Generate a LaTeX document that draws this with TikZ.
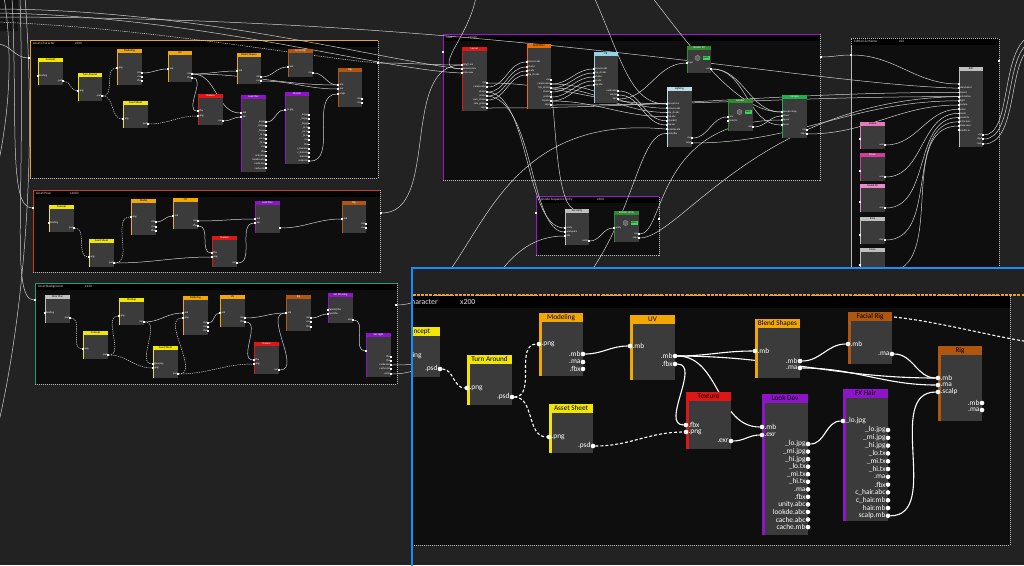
\documentclass[tikz,border=0pt]{standalone}
\usepackage{fontspec}
\setmainfont{Carlito}
\pgfdeclarelayer{l0}\pgfdeclarelayer{l1}\pgfdeclarelayer{l2}\pgfdeclarelayer{l3}\pgfdeclarelayer{l4}
\pgfsetlayers{l0,l1,main,l2,l3,l4}
\definecolor{bg}{HTML}{222222}
\definecolor{grp}{HTML}{0E0E0E}
\definecolor{body}{HTML}{3B3B3B}
\definecolor{cyel}{HTML}{F2E600}
\definecolor{corg}{HTML}{F2A800}
\definecolor{cbrn}{HTML}{B0560E}
\definecolor{cred}{HTML}{E01515}
\definecolor{cpur}{HTML}{8E14C8}
\definecolor{cani}{HTML}{E86C00}
\definecolor{cfx}{HTML}{96D2E6}
\definecolor{clit}{HTML}{BCDCE8}
\definecolor{cgrn}{HTML}{2E8B2E}
\definecolor{ccmp}{HTML}{1FAF4A}
\definecolor{cbad}{HTML}{3ED35A}
\definecolor{cgry}{HTML}{BEBEBE}
\definecolor{cvoi}{HTML}{E478BE}
\definecolor{cmus}{HTML}{D23C9A}
\definecolor{csfx}{HTML}{E88ACA}
\definecolor{cblu}{HTML}{1A8CFF}
\definecolor{fac}{HTML}{F0A020}
\definecolor{fap}{HTML}{C8401A}
\definecolor{fab}{HTML}{1FA070}
\definecolor{fsh}{HTML}{A412D8}
\definecolor{wirec}{HTML}{D0D0D0}
\definecolor{topdark}{HTML}{141414}
\tikzset{
 hy/.style={fill=cyel,text=black}, ho/.style={fill=corg,text=black},
 hb/.style={fill=cbrn,text=white}, hr/.style={fill=cred,text=white},
 hp/.style={fill=cpur,text=white}, ha/.style={fill=cani,text=black},
 hf/.style={fill=cfx,text=black}, hl/.style={fill=clit,text=black},
 hg/.style={fill=cgrn,text=white}, hc/.style={fill=ccmp,text=white},
 hgr/.style={fill=cgry,text=black}, hv/.style={fill=cvoi,text=black},
 hm/.style={fill=cmus,text=white}, hs/.style={fill=csfx,text=black},
 sbody/.style={anchor=north west,fill=body,inner sep=0,outer sep=0,draw=none},
 shead/.style={anchor=north west,inner sep=0,outer sep=0,minimum height=4pt,font=\fontsize{2.8}{3}\selectfont},
 sdot/.style={rectangle,fill=white,inner sep=0,outer sep=0,minimum size=1.8pt,label distance=1.1pt},
 slab/.style={inner sep=0,font=\fontsize{2.6}{3}\selectfont,text=white},
 bbody/.style={anchor=north west,fill=body,inner sep=0,outer sep=0},
 bhead/.style={anchor=north west,inner sep=0,outer sep=0,minimum height=9pt,font=\fontsize{7.2}{8}\selectfont},
 bdot/.style={circle,fill=white,inner sep=0,outer sep=0,minimum size=4.6pt,label distance=2.8pt},
 blab/.style={inner sep=0,font=\fontsize{7.4}{8}\selectfont,text=white},
 gbox/.style={anchor=north west,fill=grp,draw=gray!55,dash pattern=on 1pt off 1pt,line width=0.5pt,inner sep=0,outer sep=0},
 gtitle/.style={inner sep=0,font=\fontsize{3.4}{4}\selectfont,text=white!85!black},
 ititle/.style={inner sep=0,font=\fontsize{7.8}{8}\selectfont,text=white!90!black},
 w/.style={draw=wirec,line width=0.5pt},
 wdash/.style={draw=wirec,line width=0.5pt,dash pattern=on 1.3pt off 0.9pt},
 bw/.style={draw=white,line width=1.1pt},
 bwd/.style={draw=white,line width=1.1pt,dash pattern=on 3pt off 2pt},
 badge/.style={fill=cbad,text=black,inner sep=0.3pt,minimum width=7pt,minimum height=3.6pt,font=\fontsize{2.6}{3}\selectfont}
}
\newcommand\snode[7]{%
 \node[sbody,minimum width=#4pt,minimum height=#5pt] (#1) at (#2,#3) {};
 \node[shead,#6,minimum width=#4pt] (#1-h) at (#2,#3) {#7};
 \fill[#6] (#2,#3) rectangle ++(0.9,#5);}
\newcommand\si[4]{\node[sdot,label={[slab]0:#4}] (#1) at (#2,#3) {};}
\newcommand\so[4]{\node[sdot,label={[slab]180:#4}] (#1) at (#2,#3) {};}
\newcommand\bnode[7]{%
 \node[bbody,minimum width=#4pt,minimum height=#5pt] (#1) at (#2,#3) {};
 \node[bhead,#6,text=black,minimum width=#4pt] (#1-h) at (#2,#3) {#7};
 \fill[#6] (#2,#3) rectangle ++(2.6,#5);}
\newcommand\bi[4]{\node[bdot,label={[blab]0:#4}] (#1) at (#2,#3) {};}
\newcommand\bo[4]{\node[bdot,label={[blab]180:#4}] (#1) at (#2,#3) {};}
\newcommand\mkgrp[9]{%
 \begin{pgfonlayer}{l0}
 \node[gbox,minimum width=#4pt,minimum height=#5pt] (#1) at (#2,#3) {};
 \fill[black] (#2,#3) rectangle ++(#4,6.5);
 \draw[#6,line width=1pt] (#2,{#3+#5}) -- (#2,#3) -- ({#2+#4},#3);
 \node[gtitle,anchor=west] (#1-t) at ({#2+3},{#3+3.4}) {#7};
 \node[gtitle,anchor=west] (#1-c) at (#8,{#3+3.4}) {#9};
 \end{pgfonlayer}}
\newcommand\mkauto[3]{\draw[gray!80,line width=0.3pt,fill=black!60] ({#2-8.5},#3) circle (2.6);
 \node[badge] (#1) at (#2,#3) {Auto};}
\newcommand\cw[2]{\draw[w] (#1) to[out=0,in=180] (#2);}
\newcommand\cwd[2]{\draw[wdash] (#1) to[out=0,in=180] (#2);}
\newcommand\CW[2]{\draw[bw] (#1) to[out=0,in=180] (#2);}
\newcommand\CWD[2]{\draw[bwd] (#1) to[out=0,in=180] (#2);}
\begin{document}
\begin{tikzpicture}[x=1pt,y=-1pt]
\useasboundingbox (0,0) rectangle (1024,565);
\begin{pgfonlayer}{l0}
\fill[bg] (0,0) rectangle (1024,565);
\fill[topdark] (0,0) rectangle (18,31);
\end{pgfonlayer}
% ---------------- groups
\mkgrp{gAC}{30}{40}{348}{138}{fac}{Asset Character}{75}{x200}
\mkgrp{gAP}{33}{190}{347}{82}{fap}{Asset Prop}{70}{x1000}
\mkgrp{gAB}{35}{283}{362}{101}{fab}{Asset Background}{85}{x120}
\mkgrp{gSh}{443}{34}{377}{146}{fsh}{Shot}{468}{x1000}
\mkgrp{gEp}{536}{196}{123}{59}{fsh}{Episode Sequence Unity}{597}{x400}
\mkgrp{gEd}{851}{38}{148}{240}{gray!55,dash pattern=on 1pt off 1pt}{Edition \& Master}{899}{x52}
\node[sdot] (gAC-i) at (29,58) {}; \node[sdot] (gAC-o) at (378,63) {};
\node[sdot] (gAP-i) at (33,208) {}; \node[sdot] (gAP-o) at (381,213) {};
\node[sdot] (gAB-i) at (35,300) {}; \node[sdot] (gAB-o) at (396,305) {};
\node[sdot] (gSh-i) at (443,52) {}; \node[sdot] (gSh-o) at (821,57) {};
\node[sdot] (gEp-i) at (536,213) {}; \node[sdot] (gEp-o) at (659,219) {};
\node[sdot] (gEd-i) at (851,55) {}; \node[sdot] (gEd-o) at (999,61) {};
% ---------------- Asset Character
\snode{acConcept}{38}{58}{25}{27}{hy}{Concept}
\si{acConcept-i}{38}{76}{briefing}\so{acConcept-o}{63}{81}{.psd}
\snode{acTurn}{78}{73}{24}{28}{hy}{Turn Around}
\si{acTurn-i}{78}{91}{.png}\so{acTurn-o}{102}{96}{.psd}
\snode{acModel}{117}{49}{25}{36}{ho}{Modeling}
\si{acModel-i}{117}{68}{.png}
\so{acModel-mb}{142}{73}{.mb}\so{acModel-ma}{142}{77}{.ma}\so{acModel-fbx}{142}{81}{.fbx}
\snode{acSheet}{123}{101}{25}{27}{hy}{Asset Sheet}
\si{acSheet-i}{123}{119}{.png}\so{acSheet-o}{148}{124}{.psd}
\snode{acUV}{168}{51}{24}{31}{ho}{UV}
\si{acUV-i}{168}{69}{.mb}\so{acUV-mb}{192}{74}{.mb}\so{acUV-fbx}{192}{78}{.fbx}
\snode{acTex}{198}{94}{25}{31}{hr}{Texture}
\si{acTex-fbx}{198}{111}{.fbx}\si{acTex-png}{198}{116}{.png}\so{acTex-o}{223}{121}{.exr}
\snode{acBlend}{237}{53}{24}{31}{ho}{Blend Shapes}
\si{acBlend-i}{237}{71}{.mb}\so{acBlend-mb}{261}{77}{.mb}\so{acBlend-ma}{261}{81}{.ma}
\snode{acFacial}{288}{49}{25}{28}{hb}{Facial Rig}
\si{acFacial-i}{288}{67}{.mb}\so{acFacial-o}{313}{73}{.ma}
\snode{acLook}{241}{95}{25}{77}{hp}{Look Dev}
\si{acLook-mb}{241}{113}{.mb}\si{acLook-exr}{241}{117}{.exr}
\foreach \t [count=\i] in {\_lo.jpg,\_mi.jpg,\_hi.jpg,\_lo.tx,\_mi.tx,\_hi.tx,.ma,.fbx,unity.abc,lookdev.abc,cache.abc,cache.mb}
 {\pgfmathsetmacro\yy{122+4.2*(\i-1)}\so{acLook-o\i}{266}{\yy}{\t}}
\snode{acFX}{285}{92}{24}{72}{hp}{FX Hair}
\si{acFX-i}{285}{110}{\_lo.jpg}
\foreach \t [count=\i] in {\_lo.jpg,\_mi.jpg,\_hi.jpg,\_lo.tx,\_mi.tx,\_hi.tx,.ma,.fbx,c\_hair.abc,c\_hair.mb,hair.mb,scalp.mb}
 {\pgfmathsetmacro\yy{115+4.2*(\i-1)}\so{acFX-o\i}{309}{\yy}{\t}}
\snode{acRig}{338}{68}{24}{39}{hb}{Rig}
\si{acRig-mb}{338}{85}{.mb}\si{acRig-ma}{338}{89}{.ma}\si{acRig-sc}{338}{94}{.scalp}
\so{acRig-omb}{362}{99}{.mb}\so{acRig-oma}{362}{103}{.ma}
% ---------------- Asset Prop
\snode{apConcept}{49}{205}{25}{27}{hy}{Concept}
\si{apConcept-i}{49}{223}{briefing}\so{apConcept-o}{74}{228}{.psd}
\snode{apSheet}{89}{239}{25}{28}{hy}{Asset Sheet}
\si{apSheet-i}{89}{257}{.png}\so{apSheet-o}{114}{263}{.psd}
\snode{apModel}{131}{199}{25}{36}{ho}{Model}
\si{apModel-i}{131}{217}{.png}\so{apModel-mb}{156}{222}{.mb}\so{apModel-ma}{156}{227}{.ma}\so{apModel-fbx}{156}{231}{.fbx}
\snode{apUV}{173}{198}{25}{31}{ho}{UV}
\si{apUV-i}{173}{216}{.mb}\so{apUV-mb}{198}{221}{.mb}\so{apUV-fbx}{198}{226}{.fbx}
\snode{apTex}{212}{236}{25}{31}{hr}{Texture}
\si{apTex-fbx}{212}{253}{.fbx}\si{apTex-png}{212}{257}{.png}\so{apTex-o}{237}{263}{.exr}
\snode{apLook}{255}{201}{25}{32}{hp}{Look Dev}
\si{apLook-mb}{255}{219}{.mb}\si{apLook-exr}{255}{223}{.exr}\so{apLook-o}{280}{228}{}
\snode{apRig}{342}{201}{24}{32}{hb}{Rig}
\si{apRig-i}{342}{219}{.mb}\so{apRig-mb}{366}{224}{.mb}\so{apRig-ma}{366}{228}{.ma}
% ---------------- Asset Background
\snode{abFloor}{45}{295}{25}{28}{hgr}{Floor Plan}
\si{abFloor-i}{45}{313}{briefing}\so{abFloor-o}{70}{318}{.psd}
\snode{abConcept}{83}{331}{25}{28}{hy}{Concept}
\si{abConcept-i}{83}{349}{.png}\so{abConcept-o}{108}{355}{.psd}
\snode{abMock}{119}{298}{25}{27}{hy}{Mockup}
\si{abMock-i}{119}{316}{.png}\so{abMock-o}{144}{322}{.mb}
\snode{abSheet}{153}{346}{25}{32}{hy}{Asset Sheet}
\si{abSheet-g}{153}{364}{glow.png}\si{abSheet-p}{153}{368}{.png}\so{abSheet-o}{178}{374}{.psd}
\snode{abModel}{183}{296}{25}{39}{ho}{Modeling}
\si{abModel-mbi}{183}{313}{.mb}\si{abModel-png}{183}{318}{.png}
\so{abModel-mb}{208}{323}{.mb}\so{abModel-ma}{208}{327}{.ma}\so{abModel-fbx}{208}{331}{.fbx}
\snode{abUV}{220}{295}{25}{32}{ho}{UV}
\si{abUV-i}{220}{313}{.mb}\so{abUV-mb}{245}{318}{.mb}\so{abUV-fbx}{245}{322}{.fbx}
\snode{abTex}{254}{342}{25}{32}{hr}{Texture}
\si{abTex-fbx}{254}{360}{.fbx}\si{abTex-png}{254}{364}{.png}\so{abTex-o}{279}{370}{.exr}
\snode{abRig}{286}{295}{25}{36}{hb}{Rig}
\si{abRig-i}{286}{313}{.mb}\so{abRig-mb}{311}{318}{.mb}\so{abRig-ma}{311}{322}{.ma}\so{abRig-fbx}{311}{327}{.fbx}
\snode{abSetD}{328}{293}{25}{30}{hp}{Set Dressing}
\si{abSetD-p}{328}{310}{\{photo\}.fbx}\si{abSetD-m}{328}{314}{mod.fbx}\so{abSetD-o}{353}{320}{.abc}
\snode{abSetL}{366}{333}{25}{44}{hp}{Set Light}
\si{abSetL-i}{366}{351}{}
\so{abSetL-o1}{391}{357}{.fbx}\so{abSetL-o2}{391}{361}{.fbx}\so{abSetL-o3}{391}{365}{cache.abc}\so{abSetL-o4}{391}{369}{cache.mb}\so{abSetL-o5}{391}{374}{.unity}
% ---------------- Shot
\snode{shLayout}{462}{47}{25}{64}{hr}{Layout}
\si{shLayout-i1}{462}{65}{\{\{rig\}\}.ma}\si{shLayout-i2}{462}{69}{camera.mov}\si{shLayout-i3}{462}{73}{voice.wav}
\foreach \t/\y [count=\i] in {.ma/83,camera.abc/87,ch.abc/92,pr.abc/96,sam\_ch.abc/100,sam\_pr.abc/104,.mp4/108}
 {\so{shLayout-o\i}{487}{\y}{\t}}
\snode{shAnim}{527}{44}{24}{65}{ha}{Animation}
\foreach \t/\y [count=\i] in {camera.abc/62,ch.abc/67,pr.abc/71,fsp\_ch.abc/75}
 {\si{shAnim-i\i}{527}{\y}{\t}}
\foreach \t/\y [count=\i] in {.ma/80,camera.abc/84,fsp\_ch.abc/88,ch.abc/92,pr.abc/97,fsp.abc/101,.mp4/105}
 {\so{shAnim-o\i}{551}{\y}{\t}}
\snode{shFX}{594}{52}{24}{51}{hf}{FX}
\foreach \t/\y [count=\i] in {camera.abc/69,fsp\_ch.abc/73,ch.abc/77,pr.abc/81,fsp.abc/85}
 {\si{shFX-i\i}{594}{\y}{\t}}
\foreach \t/\y [count=\i] in {cache.abc/91,vol.exr/95,.fxpt/99}
 {\so{shFX-o\i}{618}{\y}{\t}}
\snode{shRFX}{687}{46}{24}{27}{hg}{Render FX}
\si{shRFX-i}{687}{63}{.fxpt}\so{shRFX-o}{711}{69}{.exr}
\mkauto{shRFX-a}{706}{58}
\snode{shLight}{667}{87}{25}{60}{hl}{Lighting}
\foreach \t [count=\i] in {prevpt.ma,camera.abc,fsp\_ch.abc,fsp.abc,\{\{looks\}\},fsp.exr,lookdev.mb,unity.fbx}
 {\pgfmathsetmacro\yy{104+4.2*(\i-1)}\si{shLight-i\i}{667}{\yy}{\t}}
\so{shLight-o1}{692}{138}{.ma}\so{shLight-o2}{692}{143}{.mp4}
\snode{shRender}{728}{99}{25}{32}{hg}{Render}
\si{shRender-i1}{728}{117}{.ma}\si{shRender-i2}{728}{121}{\{lens\}.fx}\so{shRender-o}{753}{127}{.exr}
\mkauto{shRender-a}{748}{112}
\snode{shCompo}{782}{95}{25}{43}{hc}{Compo}
\foreach \t/\y [count=\i] in {prevpt.comp/112,ch.exr/116,bg.exr/120,fx.exr/125}
 {\si{shCompo-i\i}{782}{\y}{\t}}
\so{shCompo-o1}{807}{130}{.exr}\so{shCompo-o2}{807}{134}{.mp4}
% ---------------- Episode
\snode{esSetU}{565}{209}{24}{36}{hgr}{Set Unity}
\si{esSetU-i1}{565}{228}{.unity}\si{esSetU-i2}{565}{232}{.unitypack}\si{esSetU-i3}{565}{236}{.abc}
\so{esSetU-o}{589}{241}{.unity}
\snode{esRU}{614}{211}{25}{31}{hg}{Render Unity}
\si{esRU-i}{614}{228}{.unity}\so{esRU-o1}{639}{234}{.exr}\so{esRU-o2}{639}{238}{.mp4}
\mkauto{esRU-a}{634}{223}
% ---------------- Edition
\snode{edEdit}{959}{67}{24}{80}{hgr}{Edit}
\foreach \t [count=\i] in {{},storyboard,layout,animation,light,compo,voice,music,sound fx,intro.mov,close.mov,credits.tx}
 {\pgfmathsetmacro\yy{84+4.2*(\i-1)}\si{edEdit-i\i}{959}{\yy}{\t}}
\so{edEdit-o1}{983}{135}{.exr}\so{edEdit-o2}{983}{139}{.mp4}\so{edEdit-o3}{983}{144}{.mov}
\snode{edVoi}{860}{122}{25}{27}{hv}{Voices}\si{edVoi-i}{860}{139}{}\so{edVoi-o}{885}{145}{.wav}
\snode{edMus}{860}{153}{25}{28}{hm}{Music}\si{edMus-i}{860}{171}{}\so{edMus-o}{885}{177}{.wav}
\snode{edSfx}{860}{184}{25}{28}{hs}{Sound FX}\si{edSfx-i}{860}{202}{}\so{edSfx-o}{885}{208}{.wav}
\snode{edIntro}{860}{217}{25}{27}{hgr}{Intro}\si{edIntro-i}{860}{235}{}\so{edIntro-o}{885}{240}{.mov}
\snode{edClose}{860}{248}{25}{28}{hgr}{Close}\si{edClose-i}{860}{265}{}\so{edClose-o}{885}{272}{.mov}
% ---------------- free ends
\coordinate (e1) at (-3,44); \coordinate (e2) at (12,-3); \coordinate (e3) at (20,-3);
\coordinate (e4) at (25,-3); \coordinate (e4b) at (-3,430); \coordinate (e5) at (4,-3); \coordinate (e5b) at (-3,170);
\coordinate (h1) at (-3,9); \coordinate (h2) at (-3,13); \coordinate (h3) at (-3,17); \coordinate (h4) at (-3,22);
\coordinate (t1) at (476,-3); \coordinate (t2) at (594,-3); \coordinate (t3) at (652,-3);
\coordinate (r1) at (1030,36); \coordinate (r2) at (1030,42); \coordinate (r3) at (1030,48);
% ---------------- wires (main view)
\begin{pgfonlayer}{l1}
\cwd{acConcept-o}{acTurn-i}\cwd{acTurn-o}{acModel-i}\cwd{acTurn-o}{acSheet-i}\cwd{acSheet-o}{acTex-png}
\cw{acModel-mb}{acUV-i}\cw{acUV-mb}{acBlend-i}\cw{acUV-mb}{acRig-mb}\cw{acUV-mb}{acLook-mb}
\cw{acUV-fbx}{acTex-fbx}\cw{acBlend-mb}{acFacial-i}\cw{acBlend-ma}{acRig-ma}\cw{acFacial-o}{acRig-mb}
\cw{acTex-o}{acLook-exr}\cw{acLook-o1}{acFX-i}\cw{acFX-o12}{acRig-sc}
\cwd{apConcept-o}{apSheet-i}\cwd{apSheet-o}{apModel-i}\cw{apSheet-o}{apTex-png}
\cw{apModel-mb}{apUV-i}\cw{apUV-mb}{apLook-mb}\cw{apUV-fbx}{apTex-fbx}\cw{apTex-o}{apLook-exr}\cw{apLook-o}{apRig-i}
\cwd{abFloor-o}{abConcept-i}\cwd{abConcept-o}{abMock-i}\cwd{abConcept-o}{abSheet-p}
\cw{abMock-o}{abModel-mbi}\cwd{abMock-o}{abSheet-g}\cwd{abSheet-o}{abModel-png}\cwd{abSheet-o}{abTex-png}
\cw{abModel-mb}{abUV-i}\cw{abUV-mb}{abRig-i}\cw{abUV-fbx}{abTex-fbx}\cw{abTex-o}{abRig-i}
\cw{abRig-mb}{abSetD-m}\cw{abSetD-o}{abSetL-i}
% shot internal
\cw{shLayout-o2}{shAnim-i1}\cw{shLayout-o3}{shAnim-i2}\cw{shLayout-o4}{shAnim-i3}\cw{shLayout-o5}{shAnim-i4}
\cw{shAnim-o2}{shFX-i1}\cw{shAnim-o3}{shFX-i2}\cw{shAnim-o4}{shFX-i3}\cw{shAnim-o5}{shFX-i4}\cw{shAnim-o6}{shFX-i5}
\cw{shAnim-o2}{shLight-i2}\cw{shAnim-o3}{shLight-i3}\cw{shAnim-o6}{shLight-i4}\cw{shLayout-o1}{shLight-i1}
\cw{shFX-o3}{shRFX-i}\cw{shFX-o2}{shLight-i6}\cw{shFX-o1}{shLight-i5}
\cw{shLight-o1}{shRender-i1}\cw{shRender-o}{shCompo-i2}\cw{shRFX-o}{shCompo-i4}\cw{shRFX-o}{shCompo-i1}
\draw[w] (t1) .. controls (468,40) and (430,69) .. (shLayout-i2);
\draw[w] (t2) .. controls (622,60) and (630,104) .. (shLight-i1);
\draw[w] (t3) .. controls (700,60) and (740,112) .. (shCompo-i1);
% episode
\draw[w] (shLayout-o3) .. controls (530,95) and (525,228) .. (esSetU-i1);
\draw[w] (shLayout-o4) .. controls (534,100) and (530,232) .. (esSetU-i2);
\draw[w] (shAnim-o4) .. controls (556,120) and (556,200) .. (esSetU-h);
\cw{abSetL-o5}{esSetU-i3}\cw{esSetU-o}{esRU-i}
\draw[w] (esRU-o1) .. controls (665,234) and (655,120) .. (shCompo-i3);
\draw[w] (esRU-o2) .. controls (680,238) and (760,100) .. (edEdit-i4);
% long wires
\draw[w] (e1) to[out=0,in=180] (gAC-i);
\draw[w] (e2) .. controls (18,120) and (8,208) .. (gAP-i);
\draw[w] (e3) .. controls (26,200) and (10,300) .. (gAB-i);
\draw[w] (e4) .. controls (40,200) and (14,360) .. (e4b);
\draw[w] (e5) .. controls (14,60) and (8,120) .. (e5b);
\draw[w] (h1) .. controls (200,10) and (380,60) .. (shLayout-i2);
\draw[w] (h2) .. controls (200,16) and (380,70) .. (shLayout-i3);
\draw[w] (h3) .. controls (500,18) and (800,84) .. (edEdit-i2);
\draw[wdash] (h4) .. controls (150,28) and (300,56) .. (gAC-o);
\cw{gAC-o}{shLayout-i1}
\draw[w] (gAP-o) .. controls (440,213) and (400,65) .. (shLayout-i1);
\draw[w] (gAB-o) .. controls (480,305) and (470,110) .. (shLight-i7);
\draw[w] (abSetL-o3) .. controls (640,365) and (620,133) .. (shLight-i8);
\cw{gSh-o}{gEd-i}\cw{gEd-i}{edEdit-i1}
\cw{shLayout-o7}{edEdit-i3}\cw{shAnim-o7}{edEdit-i4}\cw{shLight-o2}{edEdit-i5}\cw{shCompo-o2}{edEdit-i6}
\cw{edVoi-o}{edEdit-i7}\cw{edMus-o}{edEdit-i8}\cw{edSfx-o}{edEdit-i9}\cw{edIntro-o}{edEdit-i10}\cw{edClose-o}{edEdit-i11}
\draw[w] (edEdit-o1) .. controls (1012,135) and (1000,50) .. (r1);
\draw[w] (edEdit-o2) .. controls (1015,139) and (1004,56) .. (r2);
\draw[w] (edEdit-o3) .. controls (1018,144) and (1008,62) .. (r3);
\end{pgfonlayer}
% ================= INSET =================
\begin{pgfonlayer}{l2}
\begin{scope}
\clip (412,268) rectangle (1024,565);
\fill[bg] (412,268) rectangle (1024,565);
\node[gbox,minimum width=610pt,minimum height=250pt] (iGrp) at (400,295) {};
\fill[black] (400,296) rectangle (1010,308);
\draw[fac,line width=1.3pt,dash pattern=on 3pt off 1.2pt] (400,295) -- (1024,295);
\node[ititle,anchor=east] (iGrp-t) at (438,302) {Asset Character};
\node[ititle,anchor=west] (iGrp-c) at (460,302) {x200};
\end{scope}
\end{pgfonlayer}
\begin{pgfonlayer}{l4}
\begin{scope}
\clip (412,268) rectangle (1024,565);
\bnode{iConcept}{396}{327}{44}{50}{hy}{Concept}
\bi{iConcept-i}{396}{356}{briefing}\bo{iConcept-o}{440}{369}{.psd}
\bnode{iTurn}{467}{355}{45}{50}{hy}{Turn Around}
\bi{iTurn-i}{467}{388}{.png}\bo{iTurn-o}{512}{397}{.psd}
\bnode{iModel}{539}{313}{44}{63}{ho}{Modeling}
\bi{iModel-i}{539}{344}{.png}
\bo{iModel-mb}{583}{354}{.mb}\bo{iModel-ma}{583}{362}{.ma}\bo{iModel-fbx}{583}{369}{.fbx}
\bnode{iSheet}{549}{404}{44}{49}{hy}{Asset Sheet}
\bi{iSheet-i}{549}{437}{.png}\bo{iSheet-o}{593}{446}{.psd}
\bnode{iUV}{630}{315}{45}{65}{ho}{UV}
\bi{iUV-i}{630}{346}{.mb}\bo{iUV-mb}{675}{356}{.mb}\bo{iUV-fbx}{675}{364}{.fbx}
\bnode{iTex}{686}{392}{45}{57}{hr}{Texture}
\bi{iTex-fbx}{686}{425}{.fbx}\bi{iTex-png}{686}{432}{.png}\bo{iTex-o}{731}{441}{.exr}
\bnode{iBlend}{755}{319}{45}{59}{ho}{Blend Shapes}
\bi{iBlend-i}{755}{351}{.mb}\bo{iBlend-mb}{800}{361}{.mb}\bo{iBlend-ma}{800}{368}{.ma}
\bnode{iFacial}{848}{312}{44}{52}{hb}{Facial Rig}
\bi{iFacial-i}{848}{344}{.mb}\bo{iFacial-o}{892}{354}{.ma}
\bnode{iLook}{762}{394}{46}{141}{hp}{Look Dev}
\bi{iLook-mb}{762}{427}{.mb}\bi{iLook-exr}{762}{435}{.exr}
\foreach \t [count=\i] in {\_lo.jpg,\_mi.jpg,\_hi.jpg,\_lo.tx,\_mi.tx,\_hi.tx,.ma,.fbx,unity.abc,lookde.abc,cache.abc,cache.mb}
 {\pgfmathsetmacro\yy{444+7.55*(\i-1)}\bo{iLook-o\i}{808}{\yy}{\t}}
\bnode{iFX}{843}{389}{45}{132}{hp}{FX Hair}
\bi{iFX-i}{843}{421}{\_lo.jpg}
\foreach \t [count=\i] in {\_lo.jpg,\_mi.jpg,\_hi.jpg,\_lo.tx,\_mi.tx,\_hi.tx,.ma,.fbx,c\_hair.abc,c\_hair.mb,hair.mb,scalp.mb}
 {\pgfmathsetmacro\yy{430+7.8*(\i-1)}\bo{iFX-o\i}{888}{\yy}{\t}}
\bnode{iRig}{938}{346}{44}{75}{hb}{Rig}
\bi{iRig-mb}{938}{378}{.mb}\bi{iRig-ma}{938}{385}{.ma}\bi{iRig-sc}{938}{392}{.scalp}
\bo{iRig-omb}{982}{403}{.mb}\bo{iRig-oma}{982}{410}{.ma}
\coordinate (iD1) at (894,317); \coordinate (iD2) at (1030,342);
\end{scope}
\draw[cblu,line width=1.6pt] (412,566) -- (412,268) -- (1025,268);
\end{pgfonlayer}
\begin{pgfonlayer}{l3}
\begin{scope}
\clip (412,268) rectangle (1024,565);
\CWD{iConcept-o}{iTurn-i}\CWD{iTurn-o}{iModel-i}\CWD{iTurn-o}{iSheet-i}\CWD{iSheet-o}{iTex-png}
\CW{iModel-mb}{iUV-i}\CW{iUV-mb}{iBlend-i}\CW{iUV-mb}{iRig-mb}\CW{iUV-mb}{iLook-mb}\CW{iUV-fbx}{iTex-fbx}
\CW{iBlend-mb}{iFacial-i}\CW{iBlend-ma}{iRig-ma}\CW{iFacial-o}{iRig-mb}\CW{iTex-o}{iLook-exr}
\CW{iLook-o1}{iFX-i}\CW{iFX-o12}{iRig-sc}
\draw[bwd] (iD1) .. controls (940,322) and (990,336) .. (iD2);
\end{scope}
\end{pgfonlayer}
\end{tikzpicture}
\end{document}
